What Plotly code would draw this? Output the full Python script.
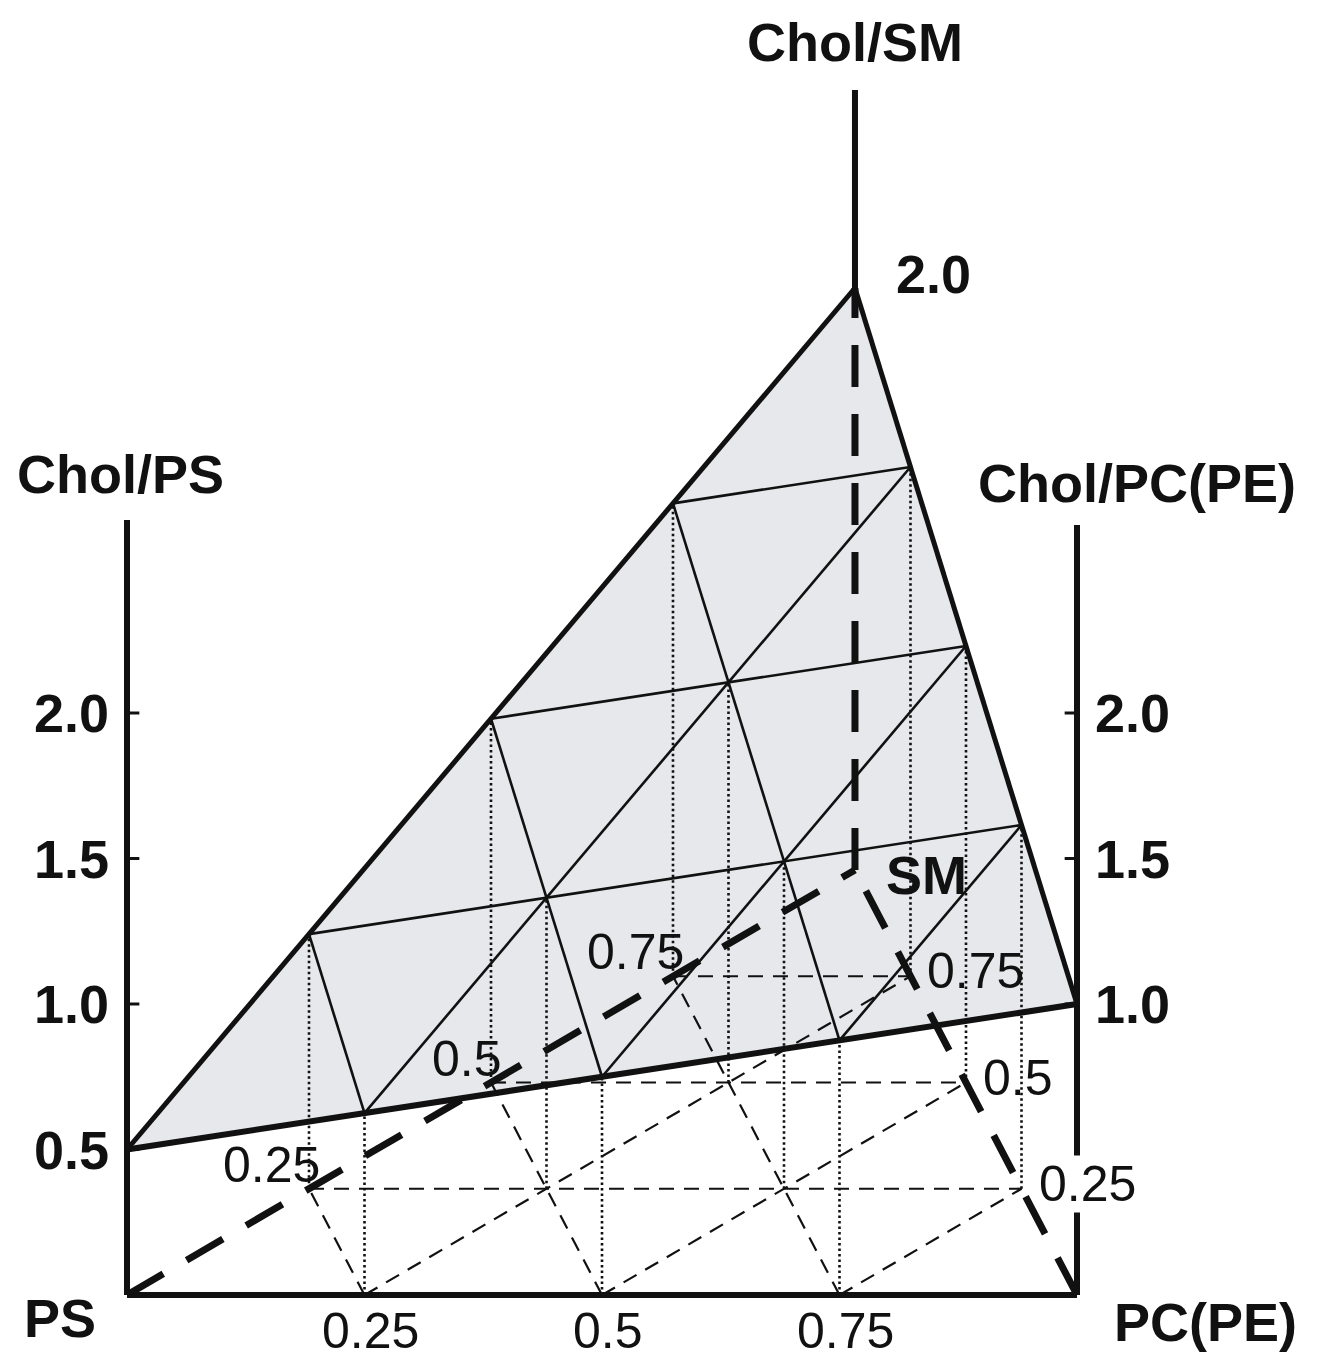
import plotly.graph_objects as go

# ---------------- data ----------------
corner_names = ["PS", "PC(PE)", "SM"]
chol_at_corner = [0.5, 1.0, 2.0]          # Chol/lipid ratio of the surface at each pure lipid
grid_fracs = [0.25, 0.5, 0.75]
grid_labels = ["0.25", "0.5", "0.75"]
chol_ticks_ps = [0.5, 1.0, 1.5, 2.0]
chol_ticks_pc = [1.0, 1.5, 2.0]
chol_ticks_sm = [2.0]
axis_titles = ["Chol/PS", "Chol/PC(PE)", "Chol/SM"]

# ---------------- projection (layout of the oblique drawing) ----------------
SM_X = 0.7663        # horizontal position of the SM corner of the base (PS=0, PC=1)
SM_DEPTH = 1.4605    # vertical offset of the SM corner of the base (in Chol units)
AXIS_TOP_PS = 2.663
AXIS_TOP_PC = 2.646
AXIS_TOP_SM = 4.141
TICK_LEN = 0.013

def base(a, b, c):
    return b + c * SM_X, c * SM_DEPTH

def chol(a, b, c):
    return a * chol_at_corner[0] + b * chol_at_corner[1] + c * chol_at_corner[2]

def surf(a, b, c):
    x, y = base(a, b, c)
    return x, y + chol(a, b, c)

def seg_trace(segs, proj, width, dash, color="#111111"):
    xs, ys = [], []
    for p, q in segs:
        x0, y0 = proj(*p)
        x1, y1 = proj(*q)
        xs += [x0, x1, None]
        ys += [y0, y1, None]
    return go.Scatter(x=xs, y=ys, mode="lines", hoverinfo="skip",
                      line=dict(color=color, width=width, dash=dash))

# grid segments (constant c, constant b, constant a)
grid_segs = []
for f in grid_fracs:
    grid_segs.append(((1 - f, 0, f), (0, 1 - f, f)))
    grid_segs.append(((1 - f, f, 0), (0, f, 1 - f)))
    grid_segs.append(((f, 1 - f, 0), (f, 0, 1 - f)))

# interior grid points
n = 4
grid_pts = []
for i in range(n + 1):
    for j in range(n + 1 - i):
        k = n - i - j
        if max(i, j, k) == n:
            continue
        grid_pts.append((i / n, j / n, k / n))

PS, PC, SM = (1, 0, 0), (0, 1, 0), (0, 0, 1)

fig = go.Figure()

# gray surface
sx, sy = zip(*[surf(*p) for p in (PS, PC, SM, PS)])
fig.add_trace(go.Scatter(x=sx, y=sy, mode="lines", fill="toself", fillcolor="#e6e8eb",
                         line=dict(width=0), hoverinfo="skip"))

# base grid (thin dashed)
fig.add_trace(seg_trace(grid_segs, base, 2.2, "15px,10px"))

# vertical dotted lines from surface grid points to base
xs, ys = [], []
for p in grid_pts:
    x0, y0 = base(*p)
    x1, y1 = surf(*p)
    xs += [x0, x1, None]
    ys += [y0, y1, None]
fig.add_trace(go.Scatter(x=xs, y=ys, mode="lines", hoverinfo="skip",
                         line=dict(color="#111111", width=2.6, dash="2.5px,3px")))

# thick dashed base edges to SM and SM vertical
bx0, by0 = base(*SM)
tx0, ty0 = surf(*SM)
xs, ys = [], []
for p in (PS, PC):
    x, y = base(*p)
    xs += [x, bx0, None]
    ys += [y, by0, None]
xs += [bx0, tx0, None]
ys += [by0, ty0, None]
fig.add_trace(go.Scatter(x=xs, y=ys, mode="lines", hoverinfo="skip",
                         line=dict(color="#111111", width=7, dash="42px,27px")))

# surface grid (thin solid)
fig.add_trace(seg_trace(grid_segs, surf, 2.6, "solid"))

# surface edges (thick)
fig.add_trace(seg_trace([(PS, SM), (SM, PC)], surf, 5, "solid"))
fig.add_trace(seg_trace([(PS, PC)], surf, 6, "solid"))

# axes
ax_x = [0, 0, None, 0, 1, None, 1, 1, None, tx0, tx0, None]
ax_y = [AXIS_TOP_PS, 0, None, 0, 0, None, 0, AXIS_TOP_PC, None, ty0, AXIS_TOP_SM, None]
fig.add_trace(go.Scatter(x=ax_x, y=ax_y, mode="lines", hoverinfo="skip",
                         line=dict(color="#111111", width=6)))

# ticks
tk_x, tk_y = [], []
for v in chol_ticks_ps:
    tk_x += [0, TICK_LEN, None]; tk_y += [v, v, None]
for v in chol_ticks_pc:
    tk_x += [1, 1 - TICK_LEN, None]; tk_y += [v, v, None]
fig.add_trace(go.Scatter(x=tk_x, y=tk_y, mode="lines", hoverinfo="skip",
                         line=dict(color="#111111", width=3)))

BOLD = dict(family="Liberation Sans, Arial, sans-serif", size=54, color="#111111")
REG = dict(family="Liberation Sans, Arial, sans-serif", size=50, color="#111111")

def ann(x, y, text, font, xanchor="center", yanchor="middle", xshift=0, yshift=0, bg=None, bold=False):
    fig.add_annotation(x=x, y=y, text=f"<b>{text}</b>" if bold else text, showarrow=False,
                       font=font, xanchor=xanchor, yanchor=yanchor, xshift=xshift, yshift=yshift,
                       bgcolor=bg, borderpad=0)

# chol tick labels
for v in chol_ticks_ps:
    ann(0, v, f"{v:.1f}", BOLD, xanchor="right", xshift=-17, bold=True)
for v in chol_ticks_pc:
    ann(1, v, f"{v:.1f}", BOLD, xanchor="left", xshift=17, bold=True)
for v in chol_ticks_sm:
    ann(tx0, SM_DEPTH + v, f"{v:.1f}", BOLD, xanchor="left", xshift=40, yshift=14, bold=True)

# axis titles
ann(0, AXIS_TOP_PS, axis_titles[0], BOLD, xshift=-7, yshift=46, bold=True)
ann(1, AXIS_TOP_PC, axis_titles[1], BOLD, xshift=60, yshift=42, bold=True)
ann(tx0, AXIS_TOP_SM, axis_titles[2], BOLD, yshift=48, bold=True)

# corner names
ann(0, 0, corner_names[0], BOLD, xshift=-67, yshift=-23, bold=True)
ann(1, 0, corner_names[1], BOLD, xshift=128, yshift=-27, bold=True)
ann(bx0, by0, corner_names[2], BOLD, xanchor="left", xshift=30, yshift=-5, bold=True)

# composition labels
for f, lab in zip(grid_fracs, grid_labels):
    x, y = base(1 - f, f, 0)
    ann(x, y, lab, REG, xshift=6, yshift=-36)
    x, y = base(1 - f, 0, f)
    ann(x, y, lab, REG, xanchor="right", xshift=12, yshift=24)
    x, y = base(0, 1 - f, f)
    ann(x, y, lab, REG, xanchor="left", xshift=16, yshift=5, bg="white" if f == 0.25 else None)

fig.update_layout(
    width=1321, height=1361, margin=dict(l=0, r=0, t=0, b=0),
    paper_bgcolor="white", plot_bgcolor="white", showlegend=False,
    xaxis=dict(visible=False, range=[-127 / 950, 1194 / 950], fixedrange=True),
    yaxis=dict(visible=False, range=[-66 / 291, 1295 / 291], fixedrange=True),
)

fig.write_html("out.html")
